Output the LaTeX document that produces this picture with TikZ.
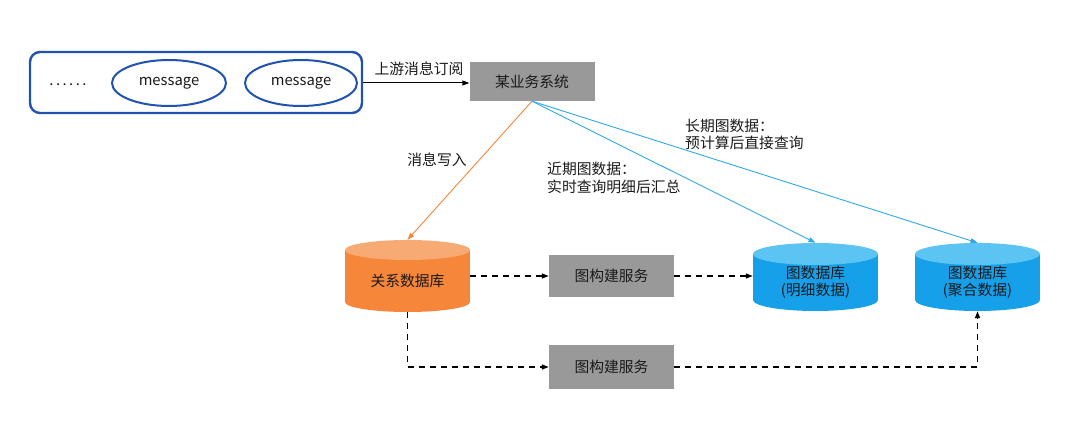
\documentclass[tikz,border=0pt]{standalone}
\usepackage{fontspec}
\setmainfont{Noto Sans CJK SC}
\usetikzlibrary{arrows.meta,shapes.geometric}
\definecolor{msgblue}{HTML}{2052B0}
\definecolor{boxgray}{HTML}{999999}
\definecolor{orbody}{HTML}{F5863A}
\definecolor{ortop}{HTML}{F8AA74}
\definecolor{blbody}{HTML}{16A0EA}
\definecolor{bltop}{HTML}{5CC4F2}
\definecolor{blline}{HTML}{2EA8EC}
\definecolor{txtdark}{HTML}{1A1A1A}
\begin{document}
\begin{tikzpicture}[x=1pt,y=-1pt,
  font=\fontsize{14.8}{17.5}\selectfont, text=txtdark,
  graybox/.style={fill=boxgray, minimum width=125pt, minimum height=42pt, inner sep=0pt},
  msgell/.style={ellipse, draw=msgblue, line width=2pt, minimum height=46pt, inner sep=0pt},
  cylbox/.style={minimum width=125pt, minimum height=70pt, inner sep=0pt},
  conn/.style={line width=1pt, -{Triangle[length=7pt,width=5pt]}},
  dasharrow/.style={line width=1.4pt, dash pattern=on 6pt off 5pt, -{Triangle[length=7pt,width=5pt]}},
  lbl/.style={inner sep=0pt}]
\useasboundingbox (0,0) rectangle (1080,422);

% message box
\node[draw=msgblue, line width=2.4pt, rounded corners=10pt, minimum width=332pt, minimum height=61pt, inner sep=0pt] (mb) at (196,82.5) {};
\node[lbl] (dots) at (68,85) {.\,.\,.\,.\,.\,.};
\node[msgell, minimum width=114pt] (m1) at (169,83) {message};
\node[msgell, minimum width=112pt] (m2) at (301,83) {message};

% system box
\node[graybox, minimum height=39pt] (sys) at (532,81.5) {某业务系统};
\draw[conn] (mb.east |- 0,83) -- (sys.west |- 0,83);
\node[lbl] (l1) at (419,69) {上游消息订阅};

% cylinders
\fill[orbody] (345,250) rectangle (470,302);
\fill[orbody] (407.5,302) ellipse[x radius=62.5, y radius=10];
\fill[ortop] (407.5,250) ellipse[x radius=62.5, y radius=10];
\node[cylbox, minimum height=72pt] (rdb) at (407.5,276) {};
\node[lbl] (rdbt) at (407.5,281) {关系数据库};

\fill[blbody] (753,254) rectangle (878,300);
\fill[blbody] (815.5,300) ellipse[x radius=62.5, y radius=11];
\fill[bltop] (815.5,254) ellipse[x radius=62.5, y radius=11];
\node[cylbox, minimum height=68pt] (g1) at (815.5,277) {};
\node[lbl, align=center] (g1t) at (815.5,282) {图数据库\\(明细数据)};

\fill[blbody] (915,254) rectangle (1040,300);
\fill[blbody] (977.5,300) ellipse[x radius=62.5, y radius=11];
\fill[bltop] (977.5,254) ellipse[x radius=62.5, y radius=11];
\node[cylbox, minimum height=68pt] (g2) at (977.5,277) {};
\node[lbl, align=center] (g2t) at (977.5,282) {图数据库\\(聚合数据)};

% build service boxes
\node[graybox] (b1) at (611.5,276) {图构建服务};
\node[graybox, minimum height=44pt] (b2) at (611.5,367) {图构建服务};

% connectors from system
\draw[conn, draw=orbody, color=orbody, line width=0.9pt] (sys.south) -- (rdb.north);
\draw[conn, draw=blline, color=blline, line width=0.9pt] (sys.south) -- (g1.north);
\draw[conn, draw=blline, color=blline, line width=0.9pt] (sys.south) -- (g2.north);

\node[lbl] (l2) at (437,160) {消息写入};
\node[lbl, align=left, anchor=west] (l3) at (547,178) {近期图数据：\\实时查询明细后汇总};
\node[lbl, align=left, anchor=west] (l4) at (685,134.5) {长期图数据：\\预计算后直接查询};

% dashed flows
\draw[dasharrow] (rdb.east) -- (b1.west);
\draw[dasharrow] (b1.east) -- (b1.east -| g1.west);
\draw[dasharrow] (rdb.south) |- (b2.west);
\draw[dasharrow] (b2.east) -| (g2.south);
\end{tikzpicture}
\end{document}
